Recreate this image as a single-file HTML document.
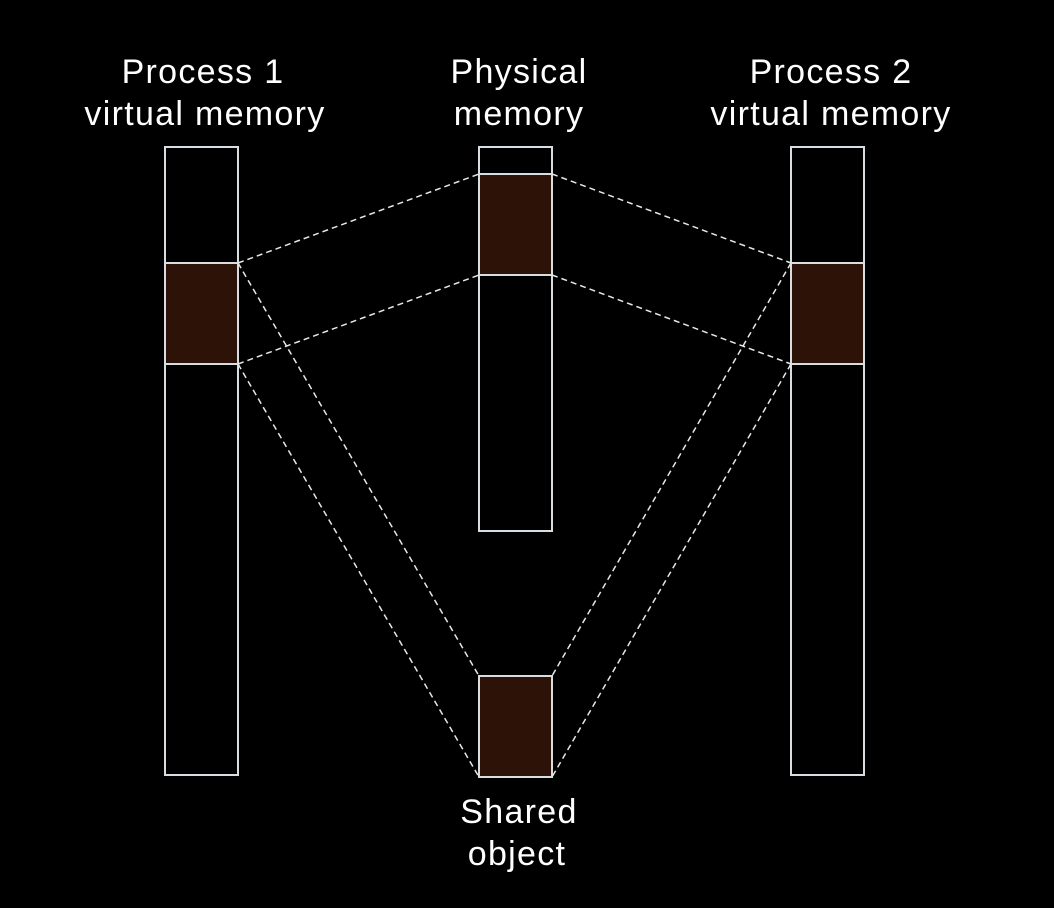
<!DOCTYPE html>
<html><head><style>
body{margin:0;background:#000;width:1054px;height:908px;overflow:hidden}
svg{display:block}
text{font-family:"Liberation Sans",sans-serif;font-size:34px;letter-spacing:1.3px;fill:#fff;text-anchor:middle}
</style></head><body>
<svg width="1054" height="908" viewBox="0 0 1054 908">
<g fill="#2d1207" stroke="none">
<rect x="165" y="263" width="73" height="101"/>
<rect x="479" y="174" width="73" height="101"/>
<rect x="791" y="263" width="73" height="101"/>
<rect x="479" y="676" width="73" height="101"/>
</g>
<g fill="none" stroke="#d8dde2" stroke-width="2">
<rect x="165" y="147" width="73" height="628"/>
<line x1="165" y1="263" x2="238" y2="263"/><line x1="165" y1="364" x2="238" y2="364"/>
<rect x="479" y="147" width="73" height="384"/>
<line x1="479" y1="174" x2="552" y2="174"/><line x1="479" y1="275" x2="552" y2="275"/>
<rect x="791" y="147" width="73" height="628"/>
<line x1="791" y1="263" x2="864" y2="263"/><line x1="791" y1="364" x2="864" y2="364"/>
<rect x="479" y="676" width="73" height="101"/>
</g>
<g stroke="#e8e8e8" stroke-width="1.5" stroke-dasharray="6,4">
<line x1="238" y1="263" x2="479" y2="174"/>
<line x1="238" y1="364" x2="479" y2="275"/>
<line x1="552" y1="174" x2="791" y2="263"/>
<line x1="552" y1="275" x2="791" y2="364"/>
<line x1="238" y1="263" x2="479" y2="676"/>
<line x1="238" y1="364" x2="479" y2="777"/>
<line x1="791" y1="263" x2="552" y2="676"/>
<line x1="791" y1="364" x2="552" y2="777"/>
</g>
<text x="203" y="83">Process 1</text>
<text x="205" y="125">virtual memory</text>
<text x="519" y="83">Physical</text>
<text x="519" y="125">memory</text>
<text x="831" y="83">Process 2</text>
<text x="831" y="125">virtual memory</text>
<text x="519" y="823">Shared</text>
<text x="517" y="865">object</text>
</svg>
</body></html>
